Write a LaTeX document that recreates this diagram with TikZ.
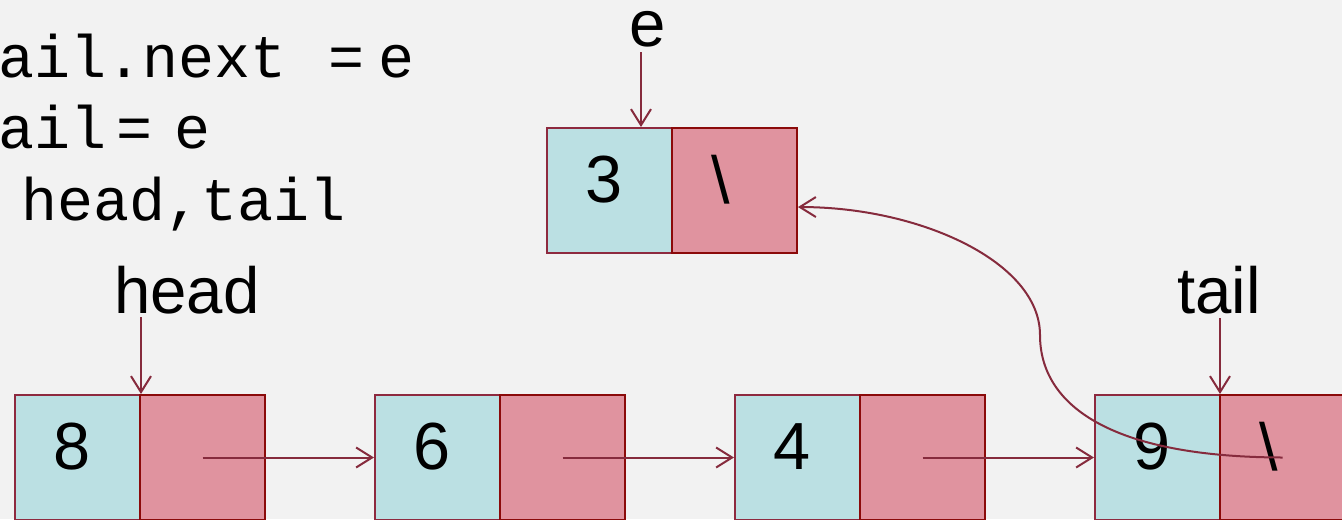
\documentclass[tikz,border=0pt]{standalone}
\usepackage{fontspec}
\setmainfont{Liberation Sans}
\newfontfamily\codefont{Liberation Mono}
\usetikzlibrary{arrows.meta}
\definecolor{bgc}{HTML}{F2F2F2}
\definecolor{cyanfill}{HTML}{BBE0E3}
\definecolor{pinkfill}{HTML}{E0939F}
\definecolor{cyanline}{HTML}{8E2A3F}
\definecolor{pinkline}{HTML}{8B0A0A}
\definecolor{arrowc}{HTML}{862B3D}
\tikzset{
  cell/.style={rectangle, minimum width=93.75pt, minimum height=93.75pt, inner sep=0pt, line width=1.5pt},
  datacell/.style={cell, fill=cyanfill, draw=cyanline},
  linkcell/.style={cell, fill=pinkfill, draw=pinkline},
  num/.style={inner sep=0pt, font=\fontsize{50}{60}\selectfont},
  lbl/.style={inner sep=0pt, anchor=base, font=\fontsize{49}{58}\selectfont},
  code/.style={inner sep=0pt, anchor=base west, font=\codefont\fontsize{45}{54}\selectfont},
  ptr/.style={draw=arrowc, line width=1.5pt, -{Straight Barb[length=12pt,width=15pt,line width=1.5pt]}}
}
\begin{document}
\begin{tikzpicture}[x=0.75pt,y=-0.75pt]
\fill[bgc] (0,0) rectangle (1342,519);
\useasboundingbox (0,0) rectangle (1342,519);
% code lines
\node[code] (c1) at (-2,77) {ail.next\hspace{32pt}=\hspace{10.5pt}e};
\node[code] (c2) at (-2,148) {ail\hspace{7.5pt}=\hspace{17pt}e};
\node[code] (c3) at (21,220) {head,tail};
% list cells
\node[datacell] (n8) at (77.5,457.5) {};
\node[linkcell] (p8) at (202.5,457.5) {};
\node[datacell] (n6) at (437.5,457.5) {};
\node[linkcell] (p6) at (562.5,457.5) {};
\node[datacell] (n4) at (797.5,457.5) {};
\node[linkcell] (p4) at (922.5,457.5) {};
\node[datacell] (n9) at (1157.5,457.5) {};
\node[linkcell] (p9) at (1282.5,457.5) {};
\node[datacell] (n3) at (609.5,190.5) {};
\node[linkcell] (p3) at (734.5,190.5) {};
% cell texts
\node[num] (t8) at ([shift={(-5,-11)}]n8.center) {8};
\node[num] (t6) at ([shift={(-5,-11)}]n6.center) {6};
\node[num] (t4) at ([shift={(-5,-11)}]n4.center) {4};
\node[num] (t9) at ([shift={(-5,-11)}]n9.center) {9};
\node[num] (t3) at ([shift={(-5,-11)}]n3.center) {3};
\node[num] (s3) at ([shift={(-14,-11)}]p3.center) {\textbackslash};
\node[num] (s9) at ([shift={(-14,-11)}]p9.center) {\textbackslash};
% labels
\node[lbl] (lhead) at (187,313) {head};
\node[lbl] (ltail) at (1219,313) {tail};
\node[lbl] (le) at (648,46) {e};
\coordinate (hs) at (141,317);
\coordinate (ts) at (1220,318);
\coordinate (es) at (641,52);
% pointers
\draw[ptr] (hs) -- (hs |- n8.north);
\draw[ptr] (ts) -- (ts |- n9.north);
\draw[ptr] (es) -- (es |- n3.north);
\draw[ptr] (p8.center) -- (n6.west);
\draw[ptr] (p6.center) -- (n4.west);
\draw[ptr] (p4.center) -- (n9.west);
\coordinate (mid) at (1040,335);
\draw[ptr] (p9.center) .. controls (1110,457) and (1040,405) .. (mid)
  .. controls (1040,262) and (920,207) .. ([yshift=-12.4pt]p3.east);
\end{tikzpicture}
\end{document}
